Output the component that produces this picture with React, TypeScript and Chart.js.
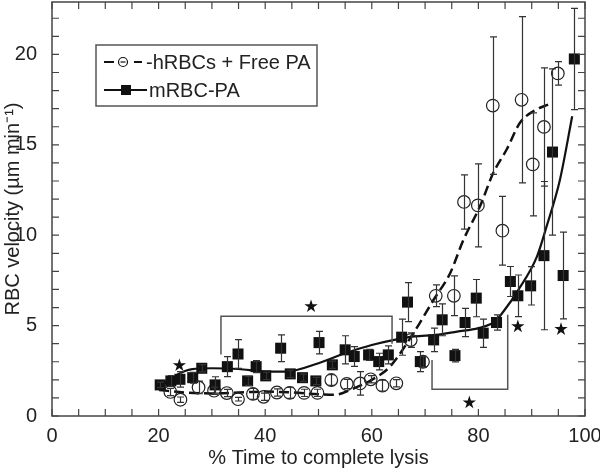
import React, { useEffect, useRef } from 'react';
import { Chart, registerables } from 'chart.js';
Chart.register(...registerables);

// hRBCs + Free PA (open circles)
const hX = [22.2, 24.1, 27.5, 30.4, 32.8, 34.9, 37.7, 39.7, 42.2, 44.6, 47.3, 49.8, 52.4, 55.3, 57.8, 59.8, 62.0, 64.6, 67.3, 69.6, 72.0, 75.4, 77.3, 79.9, 82.7, 84.5, 88.1, 90.2, 92.3, 94.9];
const hY = [1.33, 0.9, 1.58, 1.4, 1.27, 0.93, 1.22, 1.06, 1.3, 1.28, 1.28, 1.28, 1.99, 1.77, 1.8, 2.03, 1.68, 1.81, 4.2, 3.0, 6.65, 6.65, 11.84, 11.65, 17.17, 10.25, 17.49, 13.92, 15.99, 18.95];
const hErr = [0.2, 0.15, 0.35, 0.2, 0.2, 0.1, 0.3, 0.2, 0.2, 0.3, 0.2, 0.2, 0.3, 0.25, 0.65, 0.2, 0.3, 0.2, 0.4, 0.3, 0.6, 1.1, 1.5, 2.3, 3.8, 1.9, 4.6, 2.85, 3.27, 0.65];

// mRBC-PA (filled squares)
const mX = [20.3, 22.3, 24.0, 26.4, 28.1, 30.6, 32.9, 34.9, 36.7, 38.3, 40.1, 42.9, 44.7, 47.0, 49.5, 50.1, 52.6, 55.0, 56.7, 59.4, 61.3, 63.1, 65.6, 66.7, 69.1, 71.6, 73.2, 75.6, 77.5, 79.6, 80.9, 83.4, 86.0, 87.4, 89.8, 92.3, 93.9, 95.9, 98.0];
const mY = [1.72, 1.94, 2.03, 2.12, 2.64, 1.72, 2.73, 3.43, 1.94, 2.73, 2.22, 3.75, 2.33, 2.12, 1.94, 4.06, 2.83, 3.66, 3.29, 3.38, 3.01, 3.38, 4.36, 6.3, 3.01, 4.21, 5.32, 3.34, 5.17, 6.52, 4.58, 5.17, 7.44, 6.65, 7.2, 8.87, 14.6, 7.77, 19.75];
const mErr = [0.15, 0.3, 0.43, 0.3, 0.2, 0.45, 0.55, 0.8, 0.25, 0.33, 0.2, 0.74, 0.2, 0.2, 0.2, 0.62, 0.2, 0.78, 0.55, 0.3, 0.46, 0.5, 1.0, 1.08, 0.55, 0.65, 0.88, 0.35, 0.78, 1.03, 0.78, 0.42, 0.83, 1.15, 1.06, 4.1, 4.6, 2.4, 2.8];

// Fitted curves
const hFitX = [20.1, 25, 30, 35, 40, 45, 50, 53, 56, 60, 63.4, 67.8, 71.6, 74.7, 77.2, 80.3, 82.8, 85.3, 87.8, 90.3, 93.1];
const hFitY = [1.44, 1.3, 1.25, 1.3, 1.35, 1.3, 1.2, 1.17, 1.45, 2.0, 2.73, 4.58, 6.43, 7.9, 9.75, 11.6, 13.45, 14.74, 16.22, 16.86, 17.23];
const mFitX = [20.4, 23.4, 26.3, 30, 35, 40, 44, 50, 55, 60, 64, 68, 72, 76, 80, 83, 84.7, 87.5, 91, 92.8, 95.3, 97.6];
const mFitY = [1.63, 2.27, 2.59, 2.64, 2.6, 2.46, 2.46, 2.92, 3.47, 3.93, 4.2, 4.4, 4.49, 4.67, 4.86, 5.2, 5.78, 6.98, 8.83, 10.49, 13.07, 16.58];

// Significance annotations
const starX = [23.9, 48.6, 78.3, 87.4, 95.5];
const starY = [2.8, 6.06, 0.74, 4.95, 4.8];
const bracketAX = [31.7, 31.7, 63.8, 63.8];
const bracketAY = [3.4, 5.52, 5.52, 4.0];
const bracketBX = [71.3, 71.3, 85.5, 85.5];
const bracketBY = [3.1, 1.48, 1.48, 5.6];

const xTicks = [0, 20, 40, 60, 80, 100];
const yTicks = [0, 5, 10, 15, 20];
const legendLabels = ['-hRBCs + Free PA', 'mRBC-PA'];
const xTitle = '% Time to complete lysis';
const yTitle = 'RBC velocity (\u00b5m min\u207b\u00b9)';

const FONT = "'Liberation Sans', Arial, Helvetica, sans-serif";
const INK = '#111';
const TEXT = '#222';

const zip = (xs: number[], ys: number[]) => xs.map((x, i) => ({ x, y: ys[i] }));

function drawStar(ctx: CanvasRenderingContext2D, cx: number, cy: number, r: number) {
  ctx.beginPath();
  for (let k = 0; k < 10; k++) {
    const ang = -Math.PI / 2 + (k * Math.PI) / 5;
    const rr = k % 2 === 0 ? r : r * 0.38;
    const px = cx + rr * Math.cos(ang);
    const py = cy + rr * Math.sin(ang);
    if (k === 0) ctx.moveTo(px, py);
    else ctx.lineTo(px, py);
  }
  ctx.closePath();
  ctx.fill();
}

const overlay = {
  id: 'overlay',
  afterLayout(chart: any) {
    const a = chart.chartArea;
    const y = chart.scales.y;
    const top = 2;
    a.top = top;
    a.height = a.bottom - top;
    y.top = top;
    y.height = y.bottom - top;
    y.configure();
  },
  afterDatasetsDraw(chart: any) {
    const { ctx, scales } = chart;
    const x = scales.x;
    const y = scales.y;
    ctx.save();
    ctx.strokeStyle = '#333';
    ctx.lineWidth = 1.2;
    const drawErr = (xs: number[], ys: number[], es: number[]) => {
      for (let i = 0; i < xs.length; i++) {
        const px = Math.round(x.getPixelForValue(xs[i])) + 0.5;
        const t = y.getPixelForValue(ys[i] + es[i]);
        const b = y.getPixelForValue(ys[i] - es[i]);
        ctx.beginPath();
        ctx.moveTo(px, t);
        ctx.lineTo(px, b);
        ctx.moveTo(px - 3.5, t);
        ctx.lineTo(px + 3.5, t);
        ctx.moveTo(px - 3.5, b);
        ctx.lineTo(px + 3.5, b);
        ctx.stroke();
      }
    };
    drawErr(hX, hY, hErr);
    drawErr(mX, mY, mErr);

    // brackets
    ctx.strokeStyle = '#555';
    ctx.lineWidth = 1.5;
    const poly = (xs: number[], ys: number[]) => {
      ctx.beginPath();
      xs.forEach((v, i) => {
        const px = x.getPixelForValue(v);
        const py = y.getPixelForValue(ys[i]);
        if (i === 0) ctx.moveTo(px, py);
        else ctx.lineTo(px, py);
      });
      ctx.stroke();
    };
    poly(bracketAX, bracketAY);
    poly(bracketBX, bracketBY);

    ctx.fillStyle = INK;
    for (let i = 0; i < starX.length; i++) {
      drawStar(ctx, x.getPixelForValue(starX[i]), y.getPixelForValue(starY[i]), 7);
    }
    ctx.restore();
  },
  afterDraw(chart: any) {
    const { ctx, chartArea: a, scales } = chart;
    const x = scales.x;
    const y = scales.y;
    ctx.save();
    // frame
    ctx.strokeStyle = '#444';
    ctx.lineWidth = 1.5;
    ctx.strokeRect(a.left, a.top, a.right - a.left, a.bottom - a.top);
    // inward ticks
    ctx.lineWidth = 1.2;
    ctx.beginPath();
    for (let v = 0; v <= 100; v += 5) {
      const px = x.getPixelForValue(v);
      ctx.moveTo(px, a.bottom);
      ctx.lineTo(px, a.bottom - 7);
      ctx.moveTo(px, a.top);
      ctx.lineTo(px, a.top + 7);
    }
    for (let v = 0; v <= 22; v += 1) {
      const py = y.getPixelForValue(v);
      ctx.moveTo(a.left, py);
      ctx.lineTo(a.left + 7, py);
      ctx.moveTo(a.right, py);
      ctx.lineTo(a.right - 7, py);
    }
    ctx.stroke();

    // legend
    const bx = 96, by = 45, bw = 221, bh = 61;
    ctx.fillStyle = '#fff';
    ctx.fillRect(bx, by, bw, bh);
    ctx.strokeStyle = '#555';
    ctx.lineWidth = 1.5;
    ctx.strokeRect(bx, by, bw, bh);
    const r1 = 62, r2 = 90;
    ctx.strokeStyle = INK;
    ctx.lineWidth = 2.2;
    ctx.beginPath();
    ctx.moveTo(104, r1);
    ctx.lineTo(114, r1);
    ctx.moveTo(134, r1);
    ctx.lineTo(142, r1);
    ctx.stroke();
    ctx.lineWidth = 1.2;
    ctx.beginPath();
    ctx.arc(123, r1, 4.5, 0, Math.PI * 2);
    ctx.stroke();
    ctx.beginPath();
    ctx.moveTo(120.5, r1);
    ctx.lineTo(125.5, r1);
    ctx.stroke();
    ctx.lineWidth = 2.2;
    ctx.beginPath();
    ctx.moveTo(104, r2);
    ctx.lineTo(147, r2);
    ctx.stroke();
    ctx.fillStyle = INK;
    ctx.fillRect(121, r2 - 5, 10, 10);
    ctx.fillStyle = TEXT;
    ctx.font = `20px ${FONT}`;
    ctx.textBaseline = 'middle';
    ctx.textAlign = 'left';
    ctx.fillText(legendLabels[0], 146, r1 + 1);
    ctx.fillText(legendLabels[1], 149, r2 + 1);
    ctx.restore();
  },
};

export default function App() {
  const ref = useRef<HTMLCanvasElement | null>(null);
  useEffect(() => {
    if (!ref.current) return;
    const chart = new Chart(ref.current, {
      type: 'scatter',
      data: {
        datasets: [
          {
            label: legendLabels[1],
            data: zip(mX, mY),
            pointStyle: 'rect',
            pointRadius: 7.8,
            pointBackgroundColor: INK,
            pointBorderColor: INK,
            pointBorderWidth: 0,
            showLine: false,
          },
          {
            label: legendLabels[0],
            data: zip(hX, hY),
            pointStyle: 'circle',
            pointRadius: 6.3,
            pointBackgroundColor: 'rgba(255,255,255,0)',
            pointBorderColor: '#222',
            pointBorderWidth: 1.2,
            showLine: false,
          },
          {
            label: 'mFit',
            data: zip(mFitX, mFitY),
            showLine: true,
            pointRadius: 0,
            borderColor: INK,
            borderWidth: 2.2,
            cubicInterpolationMode: 'monotone',
            fill: false,
          },
          {
            label: 'hFit',
            data: zip(hFitX, hFitY),
            showLine: true,
            pointRadius: 0,
            borderColor: INK,
            borderWidth: 2.5,
            borderDash: [10, 5],
            cubicInterpolationMode: 'monotone',
            fill: false,
          },
        ] as any,
      },
      options: {
        animation: false,
        responsive: false,
        devicePixelRatio: 1,
        layout: { padding: { left: 0, right: 15, top: 1, bottom: 0 } },
        plugins: { legend: { display: false }, tooltip: { enabled: false } },
        scales: {
          x: {
            type: 'linear',
            min: 0,
            max: 100,
            grid: { display: false },
            border: { display: false },
            afterBuildTicks: (s: any) => {
              s.ticks = xTicks.map((v) => ({ value: v }));
            },
            afterFit: (s: any) => {
              s.height = 54;
              s.paddingLeft = 0;
              s.paddingRight = 0;
            },
            ticks: { font: { family: FONT, size: 20 }, color: TEXT, padding: 0, maxRotation: 0, autoSkip: false },
            title: { display: true, text: xTitle, font: { family: FONT, size: 20 }, color: TEXT, padding: { top: 0, bottom: 0 } },
          },
          y: {
            type: 'linear',
            min: 0,
            max: 22.9,
            grid: { display: false },
            border: { display: false },
            afterBuildTicks: (s: any) => {
              s.ticks = yTicks.map((v) => ({ value: v }));
            },
            afterFit: (s: any) => {
              s.width = 52;
              s.paddingTop = 0;
              s.paddingBottom = 0;
            },
            ticks: { font: { family: FONT, size: 20 }, color: TEXT, padding: 7, autoSkip: false },
            title: { display: true, text: yTitle, font: { family: FONT, size: 20 }, color: TEXT, padding: { top: 1, bottom: 0 } },
          },
        },
      } as any,
      plugins: [overlay],
    });
    return () => chart.destroy();
  }, []);
  return (
    <div style={{ position: 'fixed', left: 0, top: 0, width: 600, height: 470, background: '#fff' }}>
      <canvas ref={ref} width={600} height={470} style={{ display: 'block' }} />
    </div>
  );
}
